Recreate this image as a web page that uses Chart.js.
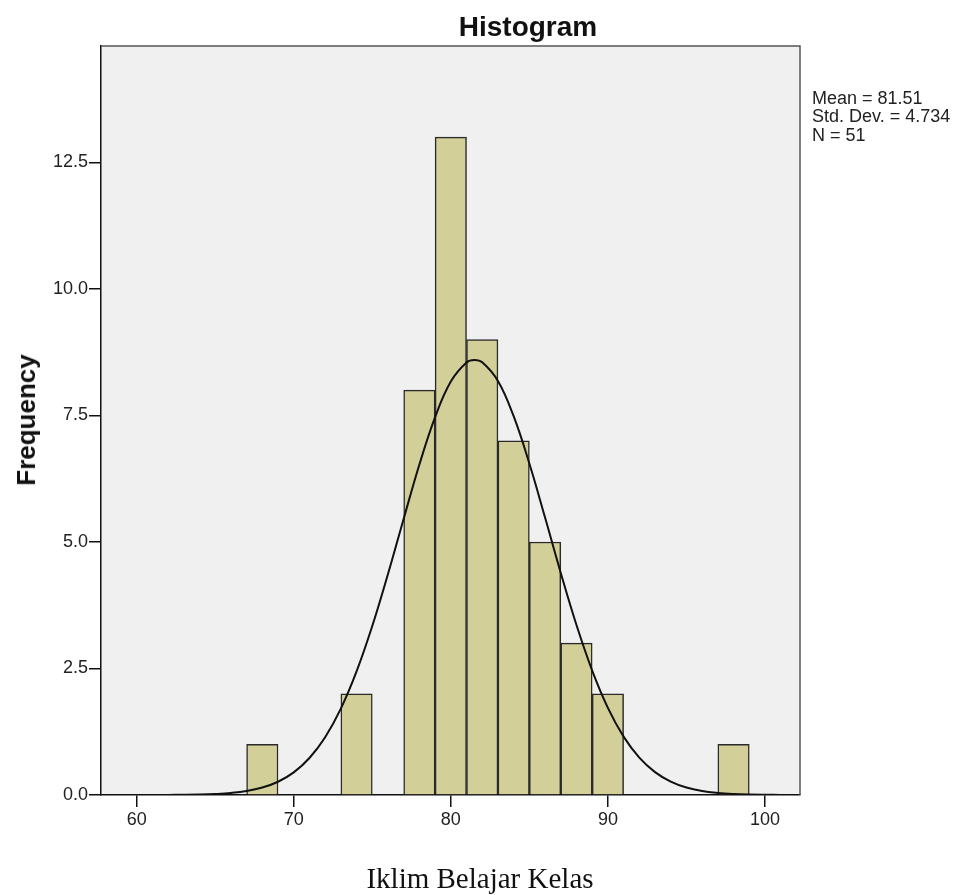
<!DOCTYPE html>
<html>
<head>
<meta charset="utf-8">
<script src="https://cdn.jsdelivr.net/npm/chart.js@4"></script>
<style>
    html, body { margin: 0; padding: 0; background: #fff; }
    #wrap { position: relative; width: 961px; height: 895px; }
    #chart { position: absolute; left: 0; top: 0; }
    .txt { position: absolute; white-space: nowrap; color: #111; line-height: 1; }
    #title { left: 528px; top: 11px; transform: translateX(-50%); font: bold 28px "Liberation Sans", Arial, sans-serif; }
    #stats { left: 812px; top: 89px; font: 18px "Liberation Sans", Arial, sans-serif; line-height: 18.3px; color: #222; }
    #ylabel { left: 24px; top: 420px; transform: translate(-50%, -50%) rotate(-90deg); font: bold 26px "Liberation Sans", Arial, sans-serif; height: 26px; }
    #xlabel { left: 480px; top: 862px; transform: translateX(-50%); font: 29px "Liberation Serif", "Times New Roman", serif; }
</style>
</head>
<body>
<div id="wrap">
    <canvas id="chart" width="961" height="895"></canvas>
    <div class="txt" id="title">Histogram</div>
    <div class="txt" id="stats">Mean = 81.51<br>Std. Dev. = 4.734<br>N = 51</div>
    <div class="txt" id="ylabel">Frequency</div>
    <div class="txt" id="xlabel">Iklim Belajar Kelas</div>
</div>
<script>
// histogram bins (width 2), centre of each bin and its count
const binCenters = [68, 74, 78, 80, 82, 84, 86, 88, 90, 98];
const frequencies = [1, 2, 8, 13, 9, 7, 5, 3, 2, 1];

// normal curve
const curveX = [58, 59, 60, 61, 62, 63, 64, 65, 66, 67, 68, 69, 70, 71, 72, 73, 74, 75, 76, 77, 78, 79,
    80, 81, 81.5, 82, 83, 84, 85, 86, 87, 88, 89, 90, 91, 92, 93, 94, 95, 96, 97, 98, 99, 100, 101, 102];
const curveY = [0, 0, 0.0003, 0.0007, 0.0018, 0.004, 0.009, 0.02, 0.04, 0.078, 0.147, 0.262, 0.447, 0.731,
    1.142, 1.708, 2.443, 3.339, 4.367, 5.46, 6.53, 7.468, 8.17, 8.546, 8.596, 8.55, 8.181, 7.485, 6.55, 5.482,
    4.388, 3.358, 2.459, 1.722, 1.153, 0.738, 0.452, 0.265, 0.148, 0.079, 0.041, 0.02, 0.009, 0.004, 0.0017, 0.0007];

const xTicks = [60, 70, 80, 90, 100];
const yTicks = [0, 2.5, 5, 7.5, 10, 12.5];

const tickFont = { family: 'Liberation Sans', size: 18 };

const plotFrame = {
    id: 'plotFrame',
    beforeDraw(chart) {
        const { ctx, chartArea: a } = chart;
        ctx.save();
        ctx.fillStyle = '#f0f0f0';
        ctx.fillRect(a.left, a.top, a.right - a.left, a.bottom - a.top);
        ctx.restore();
    },
    afterDraw(chart) {
        const { ctx, chartArea: a } = chart;
        ctx.save();
        ctx.strokeStyle = '#555';
        ctx.lineWidth = 1.5;
        ctx.beginPath();
        ctx.moveTo(a.left, a.top);
        ctx.lineTo(a.right, a.top);
        ctx.lineTo(a.right, a.bottom);
        ctx.stroke();
        ctx.restore();
    }
};

new Chart(document.getElementById('chart'), {
    type: 'bar',
    data: {
        datasets: [
            {
                type: 'line',
                data: curveX.map((x, i) => ({ x, y: curveY[i] })),
                borderColor: '#111',
                borderWidth: 2,
                pointRadius: 0,
                tension: 0.4,
                order: 0
            },
            {
                type: 'bar',
                data: binCenters.map((x, i) => ({ x, y: frequencies[i] })),
                backgroundColor: '#d3cf98',
                borderColor: '#2a2a2a',
                borderWidth: 1.5,
                categoryPercentage: 1,
                barPercentage: 1,
                order: 1
            }
        ]
    },
    options: {
        responsive: false,
        animation: false,
        layout: { padding: { left: 0, right: 161, top: 46, bottom: 0 } },
        plugins: { legend: { display: false }, tooltip: { enabled: false } },
        scales: {
            x: {
                type: 'linear',
                min: 57.73,
                max: 102.23,
                offset: false,
                afterBuildTicks: s => { s.ticks = xTicks.map(v => ({ value: v })); },
                afterFit: s => { s.height = 100; },
                grid: { offset: false, drawOnChartArea: false, tickLength: 12, color: '#111', lineWidth: 1.5 },
                border: { color: '#111', width: 1.5 },
                ticks: { font: tickFont, color: '#222', padding: 2, maxRotation: 0 }
            },
            y: {
                min: 0,
                max: 14.8,
                afterBuildTicks: s => { s.ticks = yTicks.map(v => ({ value: v })); },
                afterFit: s => { s.width = 101; },
                grid: { drawOnChartArea: false, tickLength: 12, color: '#111', lineWidth: 1.5 },
                border: { color: '#111', width: 1.5 },
                ticks: { font: tickFont, color: '#222', padding: 1, callback: v => Number(v).toFixed(1) }
            }
        }
    },
    plugins: [plotFrame]
});
</script>
</body>
</html>
